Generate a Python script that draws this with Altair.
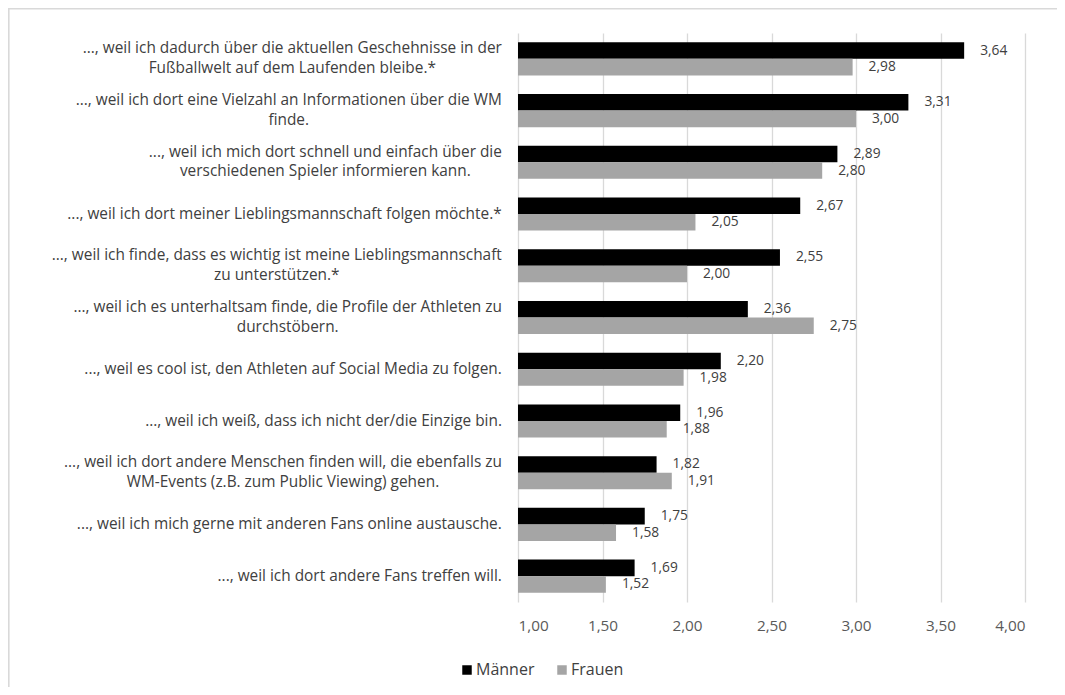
import glob
import os
import struct

import altair as alt
import pandas as pd

# ---------------- data ----------------
categories = [
    "..., weil ich dadurch über die aktuellen Geschehnisse in der\nFußballwelt auf dem Laufenden bleibe.*",
    "..., weil ich dort eine Vielzahl an Informationen über die WM\nfinde.",
    "..., weil ich mich dort schnell und einfach über die\nverschiedenen Spieler informieren kann.",
    "..., weil ich dort meiner Lieblingsmannschaft folgen möchte.*",
    "..., weil ich finde, dass es wichtig ist meine Lieblingsmannschaft\nzu unterstützen.*",
    "..., weil ich es unterhaltsam finde, die Profile der Athleten zu\ndurchstöbern.",
    "..., weil es cool ist, den Athleten auf Social Media zu folgen.",
    "..., weil ich weiß, dass ich nicht der/die Einzige bin.",
    "..., weil ich dort andere Menschen finden will, die ebenfalls zu\nWM-Events (z.B. zum Public Viewing) gehen.",
    "..., weil ich mich gerne mit anderen Fans online austausche.",
    "..., weil ich dort andere Fans treffen will.",
]
maenner = [3.64, 3.31, 2.89, 2.67, 2.55, 2.36, 2.20, 1.96, 1.82, 1.75, 1.69]
frauen = [2.98, 3.00, 2.80, 2.05, 2.00, 2.75, 1.98, 1.88, 1.91, 1.58, 1.52]
series = ["Männer", "Frauen"]
tick_values = [1.0, 1.5, 2.0, 2.5, 3.0, 3.5, 4.0]

FONT = "Open Sans"


# ---------------- text measuring (for centring 2nd label lines) ----------------
def find_font_file():
    dirs = ["/usr/share/fonts", "/usr/local/share/fonts",
            os.path.expanduser("~/.fonts"), os.path.expanduser("~/.local/share/fonts")]
    cands = []
    for d in dirs:
        for p in glob.glob(os.path.join(d, "**", "*"), recursive=True):
            b = os.path.basename(p).lower().replace(" ", "").replace("-", "").replace("_", "")
            if b.startswith("opensans") and b.endswith((".ttf", ".otf")):
                if "italic" in b or "bold" in b or "light" in b or "condensed" in b or "semi" in b:
                    continue
                cands.append(p)
    cands.sort(key=lambda p: 0 if "regular" in p.lower() else 1)
    return cands[0] if cands else None


def make_measurer(path):
    data = open(path, "rb").read()
    num = struct.unpack(">H", data[4:6])[0]
    tables = {}
    for i in range(num):
        off = 12 + 16 * i
        tag = data[off:off + 4].decode("latin-1")
        _, toff, tlen = struct.unpack(">III", data[off + 4:off + 16])
        tables[tag] = toff
    head = tables["head"]
    upem = struct.unpack(">H", data[head + 18:head + 20])[0]
    hhea = tables["hhea"]
    nhm = struct.unpack(">H", data[hhea + 34:hhea + 36])[0]
    hmtx = tables["hmtx"]
    adv = [struct.unpack(">H", data[hmtx + 4 * i:hmtx + 4 * i + 2])[0] for i in range(nhm)]
    cmap = tables["cmap"]
    n = struct.unpack(">H", data[cmap + 2:cmap + 4])[0]
    sub = None
    for i in range(n):
        pid, eid, off = struct.unpack(">HHI", data[cmap + 4 + 8 * i:cmap + 12 + 8 * i])
        fmt = struct.unpack(">H", data[cmap + off:cmap + off + 2])[0]
        if fmt == 4 and pid in (0, 3):
            sub = cmap + off
            break
    seg2 = struct.unpack(">H", data[sub + 6:sub + 8])[0]
    segc = seg2 // 2
    ends = struct.unpack(">%dH" % segc, data[sub + 14:sub + 14 + seg2])
    starts = struct.unpack(">%dH" % segc, data[sub + 16 + seg2:sub + 16 + 2 * seg2])
    deltas = struct.unpack(">%dh" % segc, data[sub + 16 + 2 * seg2:sub + 16 + 3 * seg2])
    rpos = sub + 16 + 3 * seg2
    roffs = struct.unpack(">%dH" % segc, data[rpos:rpos + seg2])

    def gid(c):
        for k in range(segc):
            if ends[k] >= c:
                if starts[k] > c:
                    return 0
                if roffs[k] == 0:
                    return (c + deltas[k]) & 0xFFFF
                addr = rpos + 2 * k + roffs[k] + 2 * (c - starts[k])
                g = struct.unpack(">H", data[addr:addr + 2])[0]
                return (g + deltas[k]) & 0xFFFF if g else 0
        return 0

    def width(s, size):
        return sum(adv[min(gid(ord(ch)), nhm - 1)] for ch in s) * size / upem

    return width


try:
    measure = make_measurer(find_font_file())
    measure("abc", 10)
except Exception:
    def measure(s, size):
        return len(s) * 0.47 * size

# font sizes chosen so the texts take about the widths they take in the reference
fs = max(12.0, min(15.4, 479.0 / measure(categories[4].split("\n")[0], 1.0)))
num_fs = max(11.0, min(16.0, 27.0 / measure("3,64", 1.0)))
tick_fs = max(11.0, min(16.0, 30.0 / measure("1,00", 1.0)))
leg_fs = max(11.0, min(16.0, 59.0 / measure("Männer", 1.0)))

LABEL_RIGHT = -16  # right edge of the category labels, relative to the plot
LINE_H = 19.5

# ---------------- tables ----------------
rows = []
for c, m, f in zip(categories, maenner, frauen):
    rows.append({"cat": c, "series": "Männer", "value": m})
    rows.append({"cat": c, "series": "Frauen", "value": f})
df = pd.DataFrame(rows)

lab_df = pd.DataFrame({
    "cat": categories,
    "nlines": [c.count("\n") + 1 for c in categories],
    "cx": [LABEL_RIGHT - measure(c.split("\n")[0], fs) / 2 for c in categories],
})

# ---------------- chart ----------------
yscale = alt.Scale(paddingInner=0.36, paddingOuter=0.18)
y_enc = alt.Y("cat:N", sort=categories, axis=None, scale=yscale)
yoff = alt.YOffset("series:N", sort=series, scale=alt.Scale(paddingInner=0, paddingOuter=0))

x_enc = alt.X(
    "value:Q",
    scale=alt.Scale(domain=[1, 4], nice=False, zero=False),
    axis=alt.Axis(
        values=tick_values,
        labelExpr="replace(format(datum.value, '.2f'), '.', ',')",
        grid=True, gridColor="#D9D9D9", gridWidth=1.3,
        domain=False, ticks=False, labelPadding=16,
        labelFontSize=tick_fs, labelColor="#595959", title=None,
    ),
)

frame_top = alt.Chart(alt.Data(values=[{"f": 1}])).mark_rule(
    color="#D9D9D9", strokeWidth=1.6
).encode(x=alt.value(-510), x2=alt.value(600), y=alt.value(-24.2))

frame_left = alt.Chart(alt.Data(values=[{"f": 1}])).mark_rule(
    color="#D9D9D9", strokeWidth=1.6
).encode(x=alt.value(-509.2), y=alt.value(-25), y2=alt.value(800))

bars = alt.Chart(df).mark_bar().encode(
    y=y_enc,
    yOffset=yoff,
    x=x_enc,
    x2=alt.datum(1),
    color=alt.Color(
        "series:N", sort=series,
        scale=alt.Scale(domain=series, range=["#000000", "#A5A5A5"]),
        legend=alt.Legend(
            title=None, orient="none", legendX=-59, legendY=629,
            direction="horizontal", symbolType="square", symbolSize=90,
            symbolStrokeWidth=0, labelFontSize=leg_fs, labelColor="#404040",
            columnPadding=19, labelOffset=1,
        ),
    ),
)

values = alt.Chart(df).transform_calculate(
    lab="replace(format(datum.value, '.2f'), '.', ',')"
).mark_text(
    align="left", baseline="middle", dx=16, fontSize=num_fs, color="#404040"
).encode(
    y=y_enc, yOffset=yoff, x=alt.X("value:Q"), text="lab:N"
)

one_line = alt.Chart(lab_df).transform_filter("datum.nlines == 1").mark_text(
    align="center", baseline="middle", dy=0, fontSize=fs, color="#404040"
).encode(
    y=y_enc, x=alt.X("cx:Q", scale=None, axis=None), text="cat:N"
)

two_lines = alt.Chart(lab_df).transform_filter("datum.nlines == 2").mark_text(
    align="center", baseline="middle", lineBreak="\n", lineHeight=LINE_H,
    dy=-10.5, fontSize=fs, color="#404040"
).encode(
    y=y_enc, x=alt.X("cx:Q", scale=None, axis=None), text="cat:N"
)

chart = alt.layer(frame_top, frame_left, bars, values, one_line, two_lines).properties(
    width=507, height=569,
    autosize=alt.AutoSizeParams(type="none"),
    padding={"left": 510, "top": 25, "right": 32, "bottom": 85},
    background="#ffffff",
).configure(font=FONT).configure_view(strokeWidth=0)

chart.save("out.html", embed_options={"renderer": "svg", "actions": False})
